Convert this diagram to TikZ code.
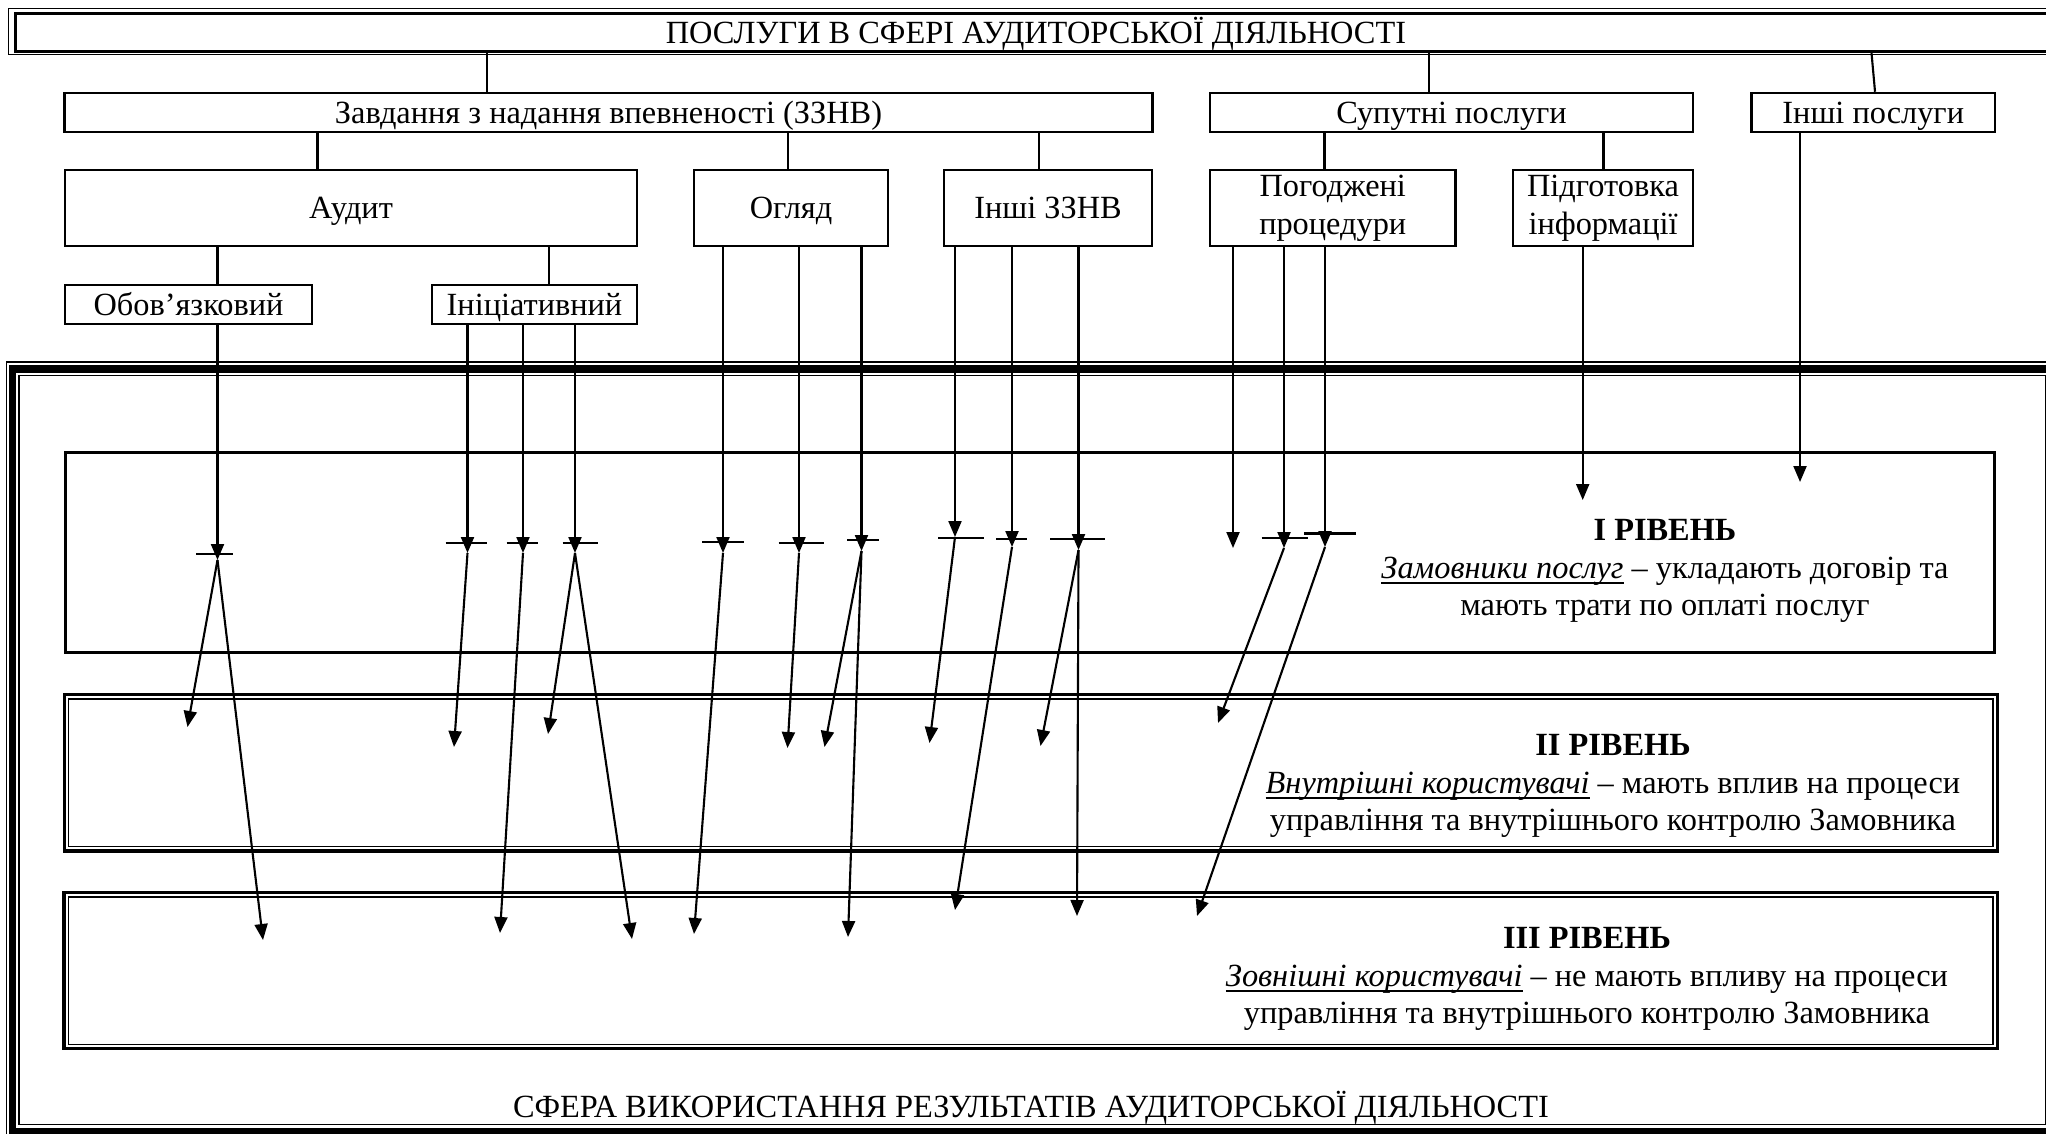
\documentclass[tikz,border=0pt]{standalone}
\usepackage{fontspec}
\setmainfont{Liberation Serif}
\usetikzlibrary{arrows.meta}

\begin{document}
\begin{tikzpicture}[x=0.01cm,y=-0.01cm,
		box/.style={draw,line width=0.7pt,inner sep=0pt,align=center,font=\fontsize{9.2}{10.7}\selectfont},
		onebox/.style={box,text height=6.1pt,text depth=0pt},
		line/.style={line width=0.6pt},
		arr/.style={line width=0.6pt,-{Triangle[length=0.16cm,width=0.13cm]}},
		lvl/.style={align=center,font=\fontsize{9.2}{10.7}\selectfont}]
			\useasboundingbox (0,0) rectangle (2046,1133);
			\clip (0,0) rectangle (2046,1133);
			\node[onebox,line width=0.95pt,minimum width=20.4cm,minimum height=0.375cm] (services) at (1036,32.5) {ПОСЛУГИ В СФЕРІ АУДИТОРСЬКОЇ ДІЯЛЬНОСТІ};
			\draw[line width=0.3pt] ([shift={(-5,-4)}]services.north west) rectangle ([shift={(5,2)}]services.south east);
			\node[onebox,minimum width=10.87cm,minimum height=0.39cm] (zznv) at (608.5,112.5) {Завдання з надання впевненості (ЗЗНВ)};
			\node[onebox,minimum width=4.83cm,minimum height=0.39cm] (related) at (1451.5,112.5) {Супутні послуги};
			\node[onebox,minimum width=2.435cm,minimum height=0.39cm] (othersrv) at (1873.25,112.5) {Інші послуги};
			\node[onebox,minimum width=5.72cm,minimum height=0.76cm] (audit) at (351,208) {Аудит};
			\node[onebox,minimum width=1.94cm,minimum height=0.76cm] (review) at (791,208) {Огляд};
			\node[onebox,minimum width=2.08cm,minimum height=0.76cm] (othzznv) at (1048,208) {Інші ЗЗНВ};
			\node[box,minimum width=2.455cm,minimum height=0.76cm] (agreed) at (1332.75,208) {Погоджені\\процедури};
			\node[box,minimum width=1.8cm,minimum height=0.76cm] (compil) at (1603,208) {Підготовка\\інформації};
			\node[onebox,minimum width=2.47cm,minimum height=0.39cm] (mandat) at (188.5,304.5) {Обов’язковий};
			\node[onebox,minimum width=2.05cm,minimum height=0.39cm] (initiat) at (534.5,304.5) {Ініціативний};
			\draw[line] (487,0 |- services.south) -- (487,0 |- zznv.north);
			\draw[line] (1429,0 |- services.south) -- (1429,0 |- related.north);
			\draw[line] (1871.5,0 |- services.south) -- (1875,0 |- othersrv.north);
			\draw[line] (317.5,0 |- zznv.south) -- (317.5,0 |- audit.north);
			\draw[line] (788,0 |- zznv.south) -- (788,0 |- review.north);
			\draw[line] (1039,0 |- zznv.south) -- (1039,0 |- othzznv.north);
			\draw[line] (1324.5,0 |- related.south) -- (1324.5,0 |- agreed.north);
			\draw[line] (1603.5,0 |- related.south) -- (1603.5,0 |- compil.north);
			\draw[line] (217.5,0 |- audit.south) -- (217.5,0 |- mandat.north);
			\draw[line] (549,0 |- audit.south) -- (549,0 |- initiat.north);
			\draw[line width=0.37pt] (6.5,362) rectangle (2058.5,1137);
			\draw[line width=2pt] (12.5,369) rectangle (2052,1131);
			\draw[line width=0.37pt] (19,375.5) rectangle (2045.5,1124.5);
			\draw[line width=0.8pt] (65.5,452.5) rectangle (1994.5,652.5);
			\draw[line width=1pt] (64.5,694.5) rectangle (1997.5,851);
			\draw[line width=0.37pt] (68.5,699) rectangle (1993,846.5);
			\draw[line width=1pt] (64,892.5) rectangle (1997.5,1048.5);
			\draw[line width=0.37pt] (68.5,897) rectangle (1993,1044.5);
			\node[lvl] (lvlI) at (1665,571) {\textbf{І РІВЕНЬ}\\\underline{\smash{\textit{Замовники послуг}}} – укладають договір та\\мають трати по оплаті послуг};
			\node[lvl] (lvlII) at (1613,786) {\textbf{ІІ РІВЕНЬ}\\\underline{\smash{\textit{Внутрішні користувачі}}} – мають вплив на процеси\\управління та внутрішнього контролю Замовника};
			\node[lvl] (lvlIII) at (1587,979) {\textbf{ІІІ РІВЕНЬ}\\\underline{\smash{\textit{Зовнішні користувачі}}} – не мають впливу на процеси\\управління та внутрішнього контролю Замовника};
			\node[lvl,text height=6.1pt,text depth=0pt] (usage) at (1031,1107) {СФЕРА ВИКОРИСТАННЯ РЕЗУЛЬТАТІВ АУДИТОРСЬКОЇ ДІЯЛЬНОСТІ};
			\coordinate (o1) at (217.5,560);
			\coordinate (i1) at (467.5,553);
			\coordinate (i2) at (523,553);
			\coordinate (i3) at (575,553);
			\coordinate (r1) at (723,553);
			\coordinate (r2) at (799,553);
			\coordinate (r3) at (861.5,551);
			\coordinate (z1) at (955,537);
			\coordinate (z2) at (1012,547);
			\coordinate (z3) at (1078.5,550);
			\coordinate (p1) at (1233,548);
			\coordinate (p2) at (1284,548);
			\coordinate (p3) at (1325,547);
			\coordinate (g1) at (1582.7,500);
			\coordinate (n1) at (1800,482);
			\coordinate (o1a) at (187.5,727);
			\coordinate (o1b) at (263,940);
			\coordinate (i1a) at (454,747);
			\coordinate (i2b) at (500,933);
			\coordinate (i3a) at (548,734);
			\coordinate (i3b) at (632,939);
			\coordinate (r1b) at (694,934);
			\coordinate (r2a) at (787.5,748);
			\coordinate (r3a) at (824.5,747);
			\coordinate (r3b) at (848,937);
			\coordinate (z1a) at (929.5,743);
			\coordinate (z2b) at (955,910);
			\coordinate (z3a) at (1040.5,746);
			\coordinate (z3b) at (1077,916);
			\coordinate (p2a) at (1218,723);
			\coordinate (p3b) at (1197,916);
			\draw[arr] (o1 |- mandat.south) -- (o1);
			\draw[arr] (i1 |- initiat.south) -- (i1);
			\draw[arr] (i2 |- initiat.south) -- (i2);
			\draw[arr] (i3 |- initiat.south) -- (i3);
			\draw[arr] (r1 |- review.south) -- (r1);
			\draw[arr] (r2 |- review.south) -- (r2);
			\draw[arr] (r3 |- review.south) -- (r3);
			\draw[arr] (z1 |- othzznv.south) -- (z1);
			\draw[arr] (z2 |- othzznv.south) -- (z2);
			\draw[arr] (z3 |- othzznv.south) -- (z3);
			\draw[arr] (p1 |- agreed.south) -- (p1);
			\draw[arr] (p2 |- agreed.south) -- (p2);
			\draw[arr] (p3 |- agreed.south) -- (p3);
			\draw[arr] (g1 |- compil.south) -- (g1);
			\draw[arr] (n1 |- othersrv.south) -- (n1);
			\draw[line] ([shift={(-21.5,-6)}]o1) -- ++(37,0);
			\draw[line] ([shift={(-22,-10)}]i1) -- ++(41,0);
			\draw[line] ([shift={(-16.3,-10)}]i2) -- ++(31.3,0);
			\draw[line] ([shift={(-12.5,-10)}]i3) -- ++(35.5,0);
			\draw[line] ([shift={(-21,-11.3)}]r1) -- ++(41.7,0);
			\draw[line] ([shift={(-20.4,-10)}]r2) -- ++(45.4,0);
			\draw[line] ([shift={(-14.5,-11)}]r3) -- ++(31.6,0);
			\draw[line] ([shift={(-17,1)}]z1) -- ++(46,0);
			\draw[line] ([shift={(-16,-8)}]z2) -- ++(31,0);
			\draw[line] ([shift={(-28.5,-11)}]z3) -- ++(54.5,0);
			\draw[line] ([shift={(-22.4,-10)}]p2) -- ++(46,0);
			\draw[line] ([shift={(-21,-13.5)}]p3) -- ++(51.7,0);
			\draw[arr] (o1) -- (o1a);
			\draw[arr] (o1) -- (o1b);
			\draw[arr] (i1) -- (i1a);
			\draw[arr] (i2) -- (i2b);
			\draw[arr] (i3) -- (i3a);
			\draw[arr] (i3) -- (i3b);
			\draw[arr] (r1) -- (r1b);
			\draw[arr] (r2) -- (r2a);
			\draw[arr] (r3) -- (r3a);
			\draw[arr] (r3) -- (r3b);
			\draw[arr] (z1) -- (z1a);
			\draw[arr] (z2) -- (z2b);
			\draw[arr] (z3) -- (z3a);
			\draw[arr] (z3) -- (z3b);
			\draw[arr] (p2) -- (p2a);
			\draw[arr] (p3) -- (p3b);
		\end{tikzpicture}
\end{document}
